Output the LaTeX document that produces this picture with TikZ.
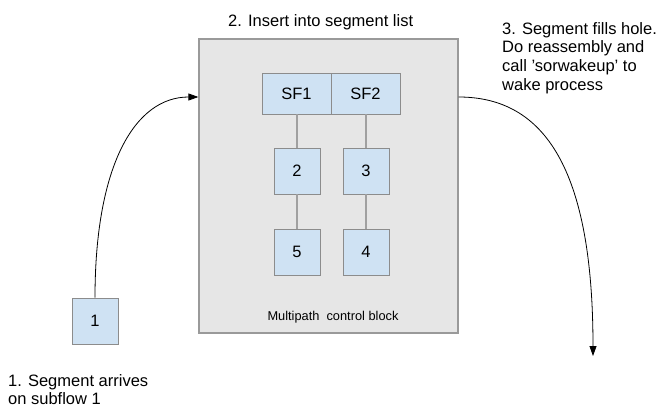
\documentclass[tikz,border=0pt]{standalone}
\usepackage{fontspec}
\setmainfont{Liberation Sans}
\usetikzlibrary{arrows.meta}

\definecolor{blockfill}{HTML}{E6E6E6}
\definecolor{blockline}{HTML}{9A9A9A}
\definecolor{segfill}{HTML}{CFE2F3}
\definecolor{segline}{HTML}{8C8C8C}
\definecolor{linkline}{HTML}{A0A0A0}

\tikzset{
  bigfont/.style={font=\fontsize{16.5}{18.7}\selectfont},
  smallfont/.style={font=\fontsize{12.8}{15}\selectfont},
  block/.style={draw=blockline, fill=blockfill, line width=1.2pt, inner sep=0pt},
  seg/.style={draw=segline, fill=segfill, line width=0.9pt, inner sep=0pt,
              minimum width=46pt, minimum height=46pt, bigfont},
  sfhead/.style={seg, minimum width=69pt, minimum height=41pt},
  link/.style={draw=linkline, line width=1.2pt},
  flow/.style={draw=black, line width=0.8pt, -{Triangle[length=10pt,width=7pt]}},
  note/.style={inner sep=0pt, align=left, bigfont}
}

\begin{document}
\begin{tikzpicture}[x=1pt, y=-1pt]
  \useasboundingbox (0,0) rectangle (662,412);

  % multipath control block
  \node[block, minimum width=259pt, minimum height=294pt] (mcb) at (328.5,186) {};
  \node[smallfont, anchor=base, inner sep=0pt] (mcblabel) at (333,320.5) {Multipath\ \ control block};

  % subflow heads
  \node[sfhead] (sf1) at (296.5,93.5) {SF1};
  \node[sfhead] (sf2) at (365.5,93.5) {SF2};

  % queued segments
  \node[seg] (s2) at (297,171) {2};
  \node[seg] (s3) at (366,171) {3};
  \node[seg] (s5) at (297,252) {5};
  \node[seg] (s4) at (366,252) {4};

  \draw[link] (s2.north |- sf1.south) -- (s2.north);
  \draw[link] (s2) -- (s5);
  \draw[link] (s3.north |- sf2.south) -- (s3.north);
  \draw[link] (s3) -- (s4);

  % arriving segment
  \node[seg] (s1) at (95,321) {1};

  % flow arrows
  \coordinate (entry) at (mcb.west |- 0,97);
  \coordinate (exit) at (mcb.east |- 0,97);
  \coordinate (sink) at (593,356);
  \draw[flow] (s1.north) .. controls (95,165) and (135,97) .. (entry);
  \draw[flow] (exit) .. controls (545,97) and (593,170) .. (sink);

  % step notes
  \node[note, anchor=north west] (n1) at (8,374) {1. Segment arrives\\on subflow 1};
  \node[note, anchor=north west] (n2) at (228,14) {2. Insert into segment list};
  \node[note, anchor=north west] (n3) at (502,22) {3. Segment fills hole.\\Do reassembly and\\call 'sorwakeup' to\\wake process};
\end{tikzpicture}
\end{document}
